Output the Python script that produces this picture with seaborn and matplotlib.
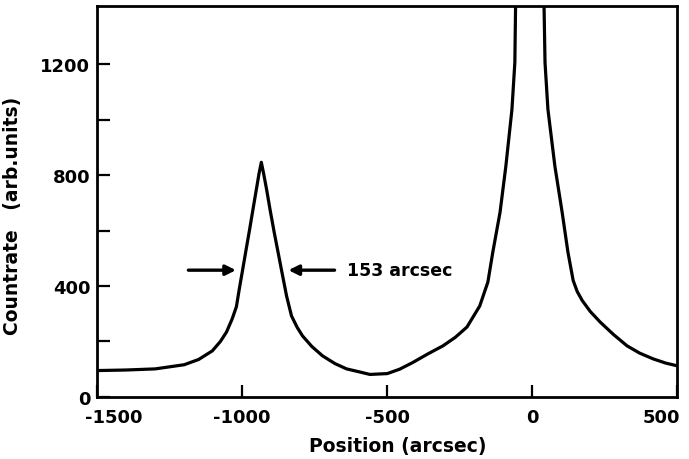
import numpy as np
import pandas as pd
import matplotlib
matplotlib.use("Agg")
import matplotlib.pyplot as plt
import matplotlib.transforms as mtransforms
import seaborn as sns

# scan profile (main peak runs off the top of the frame)
position = [-1500, -1400, -1300, -1200, -1150, -1103, -1075, -1054, -1035, -1020,
            -1010, -999, -987, -975, -963, -951, -942, -934, -926, -916,
            -903, -889, -876, -864, -847, -830, -810, -792, -760, -723,
            -680, -640, -595, -560, -500, -457, -412, -360, -308, -265,
            -225, -181, -153, -136, -111, -91, -70, -60, -57, -10,
            40, 44, 54, 78, 103, 123, 141, 155, 172, 200, 234,
            280, 327, 370, 417, 460, 500]
countrate = [95, 97, 101, 116, 135, 166, 200, 234, 280, 325,
             389, 455, 528, 600, 675, 749, 805, 846, 805, 749,
             670, 590, 520, 455, 364, 292, 250, 220, 182, 148,
             120, 101, 90, 81, 84, 100, 124, 155, 184, 215,
             252, 328, 414, 522, 666, 832, 1037, 1206, 1450, 3000,
             1450, 1206, 1037, 832, 666, 522, 420, 380, 348, 308, 270,
             225, 184, 158, 137, 122, 112]

x_ticks = [-1500, -1000, -500, 0, 500]
x_labels = ["-1500", "-1000", "-500", "0", "500"]
y_ticks = [0, 400, 800, 1200]
y_labels = ["0", "400", "800", "1200"]
y_minor = [200, 600, 1000]

fwhm_label = "153 arcsec"
arrow_y = 457

df = pd.DataFrame({"position": position, "countrate": countrate})

sns.set_theme(style="ticks")
plt.rcParams["font.family"] = ["DejaVu Sans"]
plt.rcParams["font.weight"] = "bold"
plt.rcParams["text.color"] = "black"
plt.rcParams["axes.labelcolor"] = "black"

fig = plt.figure(figsize=(6.89, 4.6), dpi=100)
ax = fig.add_axes([0.141, 0.135, 0.842, 0.85])

sns.lineplot(data=df, x="position", y="countrate", ax=ax, color="black",
             linewidth=2.3, sort=False)

ax.set_xlim(-1500, 500)
ax.set_ylim(0, 1410)
ax.set_xticks(x_ticks)
ax.set_xticklabels(x_labels, fontsize=13, fontweight="bold")
ax.set_yticks(y_ticks)
ax.set_yticklabels(y_labels, fontsize=13, fontweight="bold")
ax.set_yticks(y_minor, minor=True)
ax.tick_params(axis="both", which="both", direction="in", length=9, width=1.6,
               colors="black", labelcolor="black")
ax.tick_params(axis="x", pad=8)
ax.tick_params(axis="y", pad=5)
for s in ax.spines.values():
    s.set_linewidth(2)
    s.set_color("black")

# end labels sit inside the frame in the original
xl = ax.get_xticklabels()
xl[0].set_transform(xl[0].get_transform() + mtransforms.ScaledTranslation(0.17, 0, fig.dpi_scale_trans))
xl[-1].set_transform(xl[-1].get_transform() + mtransforms.ScaledTranslation(-0.16, 0, fig.dpi_scale_trans))

ax.set_xlabel("Position (arcsec)", fontsize=13.5, fontweight="bold", color="black")
ax.xaxis.set_label_coords(0.518, -0.1)
ax.set_ylabel("Countrate   (arb.units)", fontsize=13.5, fontweight="bold", color="black")
ax.yaxis.set_label_coords(-0.13, 0.465)

# FWHM arrows
ax.annotate("", xy=(-1012, arrow_y), xytext=(-1195, arrow_y),
            arrowprops=dict(arrowstyle="-|>", color="black", lw=2.4, mutation_scale=15))
ax.annotate("", xy=(-850, arrow_y), xytext=(-672, arrow_y),
            arrowprops=dict(arrowstyle="-|>", color="black", lw=2.4, mutation_scale=15))
ax.text(-640, arrow_y, fwhm_label, fontsize=12.5, fontweight="bold", color="black",
        va="center", ha="left")

fig.savefig("out.png", dpi=100)
